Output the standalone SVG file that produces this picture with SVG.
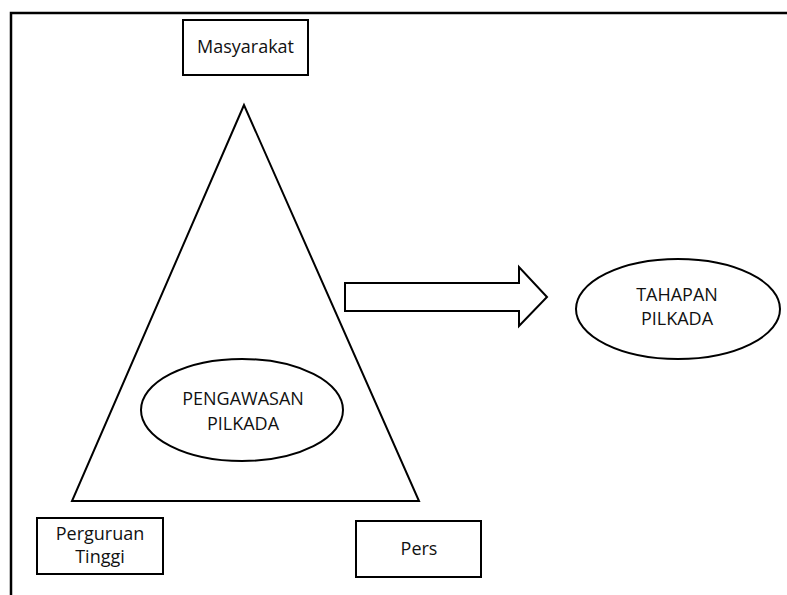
<svg xmlns="http://www.w3.org/2000/svg" width="787" height="595" viewBox="0 0 787 595">
<style>
.s{fill:#fff;stroke:#000;stroke-width:2}
.t{font-family:"Open Sans","Liberation Sans",sans-serif;font-size:18px;fill:#111;text-anchor:middle}
</style>
<rect width="787" height="595" fill="#fff"/>
<g id="frame">
<polyline points="11,595 11,13 787,13" fill="none" stroke="#000" stroke-width="2.5"/>
</g>
<g id="triangle">
<polygon class="s" points="244,105 72,501 419,501"/>
</g>
<g id="masyarakat">
<rect class="s" x="183" y="20" width="125" height="55"/>
<text class="t" x="245.5" y="53">Masyarakat</text>
</g>
<g id="perguruan-tinggi">
<rect class="s" x="37" y="518" width="126" height="56"/>
<text class="t" x="100" y="540">Perguruan</text>
<text class="t" x="100" y="563">Tinggi</text>
</g>
<g id="pers">
<rect class="s" x="356" y="521" width="125" height="56"/>
<text class="t" x="419" y="555">Pers</text>
</g>
<g id="pengawasan">
<ellipse class="s" cx="242" cy="410" rx="101" ry="51"/>
<text class="t" x="243" y="405">PENGAWASAN</text>
<text class="t" x="243" y="430">PILKADA</text>
</g>
<g id="tahapan">
<ellipse class="s" cx="678" cy="309" rx="102" ry="50"/>
<text class="t" x="677" y="301">TAHAPAN</text>
<text class="t" x="677" y="325">PILKADA</text>
</g>
<g id="connectors">
<polygon class="s" points="345,283 519,283 519,267 547,297 519,326 519,311 345,311"/>
</g>
</svg>
